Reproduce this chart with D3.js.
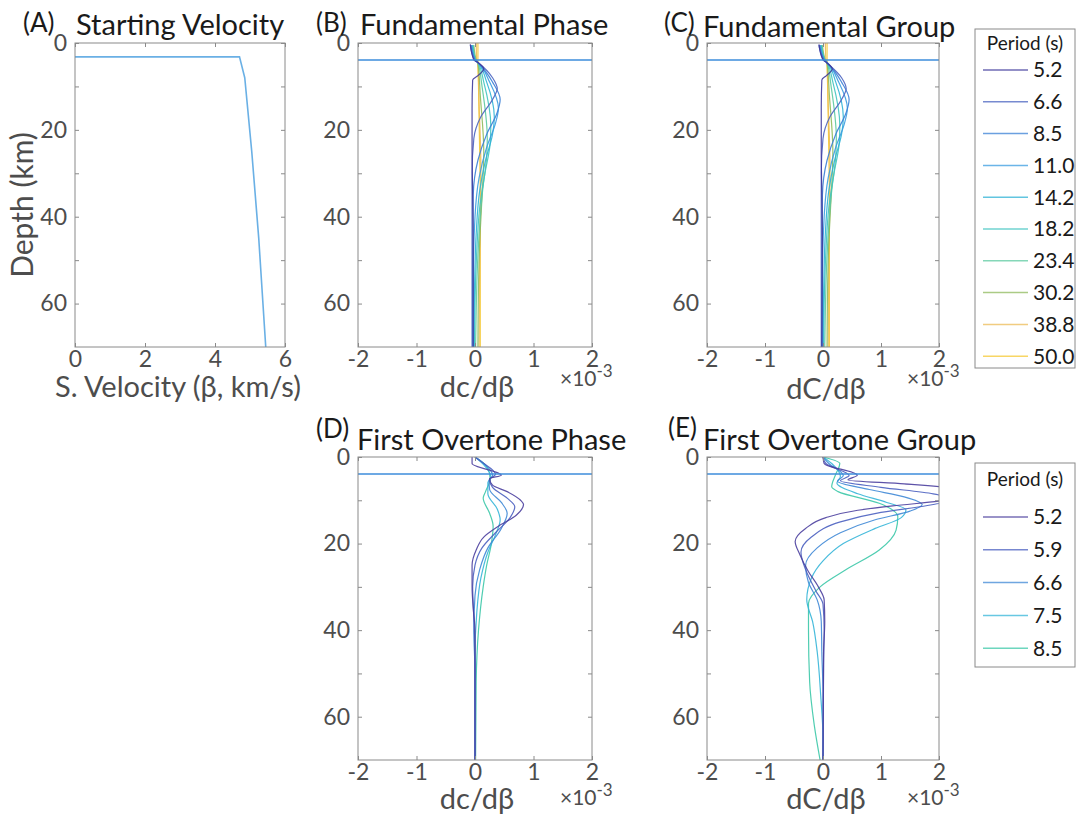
<!DOCTYPE html>
<html>
<head>
<meta charset="utf-8">
<script src="https://cdn.jsdelivr.net/npm/d3@7"></script>
<style>
    body { margin: 0; background: #fff; }
    svg { display: block; font-family: Lato, "Open Sans", sans-serif; }
</style>
</head>
<body>
<div id="chart"></div>
<script>
// ---- data ----
const depthTicks = [0, 10, 20, 30, 40, 50, 60];
const depthLabels = [0, 20, 40, 60];
const velocityTicks = [0, 2, 4, 6];
const kernelTicks = [-2, -1, 0, 1, 2];

const periodsFund = ['5.2', '6.6', '8.5', '11.0', '14.2', '18.2', '23.4', '30.2', '38.8', '50.0'];
const colorsFund = ['#3f3a9c', '#4a63c0', '#3a80d6', '#3a9ce0', '#2db2d6', '#40c4c0', '#5cc9a0', '#8fba5c', '#ecbb55', '#f5c832'];
const periodsOver = ['5.2', '5.9', '6.6', '7.5', '8.5'];
const colorsOver = ['#4b3f9e', '#4a5fc0', '#3f88d6', '#35b5d8', '#3cc8a8'];

// starting model: [beta km/s, depth km]
const startingVelocity = [[0, 3.2], [4.7, 3.2], [4.85, 8], [5.05, 25], [5.25, 45], [5.45, 70]];

// depth of the water/sediment interface where kernels spike off-scale
const interfaceDepth = 3.9;

// sensitivity kernels: [value x1e-3, depth km], one list per period
const fundPhase = [
    [[-0.08, 0.3], [-0.02, 3.9], [0.05, 4.5], [0.15, 6], [0.05, 7.5], [-0.04, 8.5], [-0.05, 15], [-0.05, 25], [-0.04, 35], [-0.03, 45], [-0.03, 70]],
    [[-0.08, 0.5], [-0.01, 3.9], [0.05, 4.5], [0.3, 8], [0.38, 10.5], [0.3, 13], [0.1, 17], [-0.02, 22], [-0.05, 30], [-0.05, 45], [-0.05, 70]],
    [[-0.07, 0.5], [0, 3.9], [0.05, 4.5], [0.3, 9], [0.43, 13], [0.38, 16], [0.2, 21], [0.05, 27], [-0.03, 35], [-0.04, 50], [-0.04, 70]],
    [[-0.06, 0.5], [0, 3.9], [0.05, 4.5], [0.25, 9], [0.4, 15], [0.35, 18.5], [0.2, 24], [0.07, 31], [0, 40], [-0.03, 55], [-0.03, 70]],
    [[-0.05, 0.5], [0, 3.9], [0.05, 4.5], [0.2, 9], [0.33, 17], [0.3, 21], [0.18, 27], [0.08, 34], [0.02, 44], [-0.01, 58], [-0.02, 70]],
    [[-0.04, 0.5], [0.01, 3.9], [0.05, 4.5], [0.15, 9], [0.27, 19], [0.26, 23], [0.17, 30], [0.08, 38], [0.03, 48], [0, 60], [-0.01, 70]],
    [[-0.03, 0.5], [0.01, 3.9], [0.05, 4.5], [0.12, 10], [0.21, 22], [0.2, 26], [0.13, 34], [0.08, 42], [0.04, 52], [0.02, 62], [0.01, 70]],
    [[-0.02, 0.5], [0.02, 3.9], [0.05, 4.5], [0.09, 12], [0.15, 25], [0.14, 30], [0.11, 38], [0.08, 46], [0.06, 56], [0.05, 70]],
    [[0.02, 0], [0.03, 3.9], [0.05, 4.5], [0.07, 14], [0.1, 28], [0.1, 34], [0.09, 42], [0.08, 52], [0.07, 70]],
    [[0.05, 0], [0.05, 3.9], [0.06, 10], [0.08, 25], [0.09, 35], [0.09, 45], [0.09, 55], [0.09, 70]]
];

const fundGroup = [
    [[-0.07, 0.3], [0, 3.9], [0.06, 4.5], [0.16, 6], [0.06, 7.5], [-0.02, 8.5], [-0.03, 15], [-0.03, 25], [-0.02, 35], [-0.01, 45], [-0.02, 70]],
    [[-0.07, 0.5], [0.01, 3.9], [0.06, 4.5], [0.32, 8], [0.4, 10.5], [0.32, 13], [0.12, 17], [0, 22], [-0.03, 30], [-0.03, 45], [-0.03, 70]],
    [[-0.06, 0.5], [0.02, 3.9], [0.07, 4.5], [0.32, 9], [0.45, 13], [0.4, 16], [0.22, 21], [0.07, 27], [-0.01, 35], [-0.02, 50], [-0.02, 70]],
    [[-0.05, 0.5], [0.02, 3.9], [0.07, 4.5], [0.27, 9], [0.42, 15], [0.37, 18.5], [0.22, 24], [0.09, 31], [0.02, 40], [-0.01, 55], [-0.01, 70]],
    [[-0.04, 0.5], [0.02, 3.9], [0.07, 4.5], [0.22, 9], [0.35, 17], [0.32, 21], [0.2, 27], [0.1, 34], [0.04, 44], [0.01, 58], [0, 70]],
    [[-0.03, 0.5], [0.03, 3.9], [0.07, 4.5], [0.17, 9], [0.29, 19], [0.28, 23], [0.19, 30], [0.1, 38], [0.05, 48], [0.02, 60], [0.01, 70]],
    [[-0.02, 0.5], [0.03, 3.9], [0.07, 4.5], [0.14, 10], [0.23, 22], [0.22, 26], [0.15, 34], [0.1, 42], [0.06, 52], [0.04, 62], [0.03, 70]],
    [[-0.01, 0.5], [0.04, 3.9], [0.07, 4.5], [0.11, 12], [0.17, 25], [0.16, 30], [0.13, 38], [0.1, 46], [0.08, 56], [0.07, 70]],
    [[0.04, 0], [0.05, 3.9], [0.07, 4.5], [0.09, 14], [0.12, 28], [0.12, 34], [0.11, 42], [0.1, 52], [0.09, 70]],
    [[0.07, 0], [0.07, 3.9], [0.08, 10], [0.1, 25], [0.11, 35], [0.11, 45], [0.11, 55], [0.11, 70]]
];

const overPhase = [
    [[-0.05, 0], [-0.05, 1.5], [0.45, 4.2], [0.25, 5], [0.3, 6.5], [0.55, 8], [0.78, 10], [0.83, 11], [0.7, 13.5], [0.4, 16], [0.15, 18.5], [0.02, 21.5], [-0.05, 25], [-0.05, 30], [-0.03, 35], [0, 40], [0, 70]],
    [[0, 0], [0.1, 1], [0.35, 4], [0.25, 5.2], [0.3, 7], [0.55, 9.5], [0.68, 11.5], [0.6, 14], [0.35, 17.5], [0.12, 21], [0, 25], [-0.04, 30], [-0.02, 37], [0, 45], [0, 70]],
    [[0, 0], [0.15, 1.5], [0.3, 4.2], [0.24, 5.5], [0.25, 7.5], [0.45, 10.5], [0.55, 13], [0.45, 16.5], [0.22, 21], [0.08, 26], [0, 32], [-0.02, 40], [0, 50], [0, 70]],
    [[0, 0], [0.15, 1.8], [0.27, 4.5], [0.22, 6], [0.22, 8.5], [0.38, 12], [0.43, 14.5], [0.35, 18], [0.22, 22], [0.1, 28], [0.03, 36], [0, 46], [0, 70]],
    [[0, 0], [0.2, 2.2], [0.26, 5], [0.18, 8], [0.14, 9.5], [0.25, 13], [0.31, 16], [0.28, 20], [0.2, 25], [0.14, 30], [0.06, 40], [0.02, 52], [0.01, 70]]
];

const overGroup = [
    [[0, 0], [0.02, 1.5], [0.59, 4.2], [0.43, 5.3], [1.4, 6.2], [2.4, 7.5], [2.6, 9], [2.0, 10.2], [1.2, 11.3], [0.6, 12.3], [0.05, 14], [-0.3, 16.5], [-0.48, 19.5], [-0.4, 22.5], [-0.25, 26.5], [-0.08, 30], [0.02, 33], [0.03, 38], [0.01, 45], [0, 70]],
    [[0, 0], [0.05, 1.5], [0.45, 4.3], [0.3, 5.5], [1.0, 7], [1.9, 8.5], [2.2, 10], [1.8, 11.2], [1.0, 12.8], [0.3, 15], [-0.2, 18.5], [-0.38, 22], [-0.3, 26], [-0.12, 31], [0, 34], [0.02, 40], [0.01, 48], [0, 70]],
    [[0, 0], [0.1, 1.5], [0.35, 4.3], [0.25, 5.6], [0.8, 7.5], [1.4, 9.2], [1.71, 11], [1.5, 12.5], [0.9, 14.5], [0.3, 17.5], [-0.1, 21], [-0.3, 25], [-0.25, 29], [-0.1, 33], [-0.03, 38], [-0.02, 45], [0, 55], [0, 70]],
    [[0, 0], [0.15, 1.5], [0.3, 4.5], [0.24, 6], [0.6, 8.5], [1.1, 10.5], [1.43, 12.2], [1.35, 14], [0.9, 16.5], [0.35, 20], [0, 24], [-0.2, 28], [-0.28, 33], [-0.18, 38], [-0.1, 45], [-0.04, 55], [0, 65], [0, 70]],
    [[0, 0], [0.29, 1.5], [0.22, 4], [0.15, 6.9], [0.26, 8], [0.97, 10.7], [1.29, 13.8], [1.26, 16.9], [0.97, 21.5], [0.4, 26], [-0.05, 30], [-0.25, 33.8], [-0.25, 40], [-0.23, 52], [-0.15, 62], [-0.05, 70]]
];

// ---- layout ----
const width = 1078;
const height = 821;
const axisGrey = '#8a8a8a';
const labelGrey = '#4d4d4d';

const svg = d3.select('#chart').append('svg')
    .attr('width', width)
    .attr('height', height);

function drawPanel(p) {
    const x = d3.scaleLinear().domain(p.xDomain).range([p.left, p.right]);
    const y = d3.scaleLinear().domain([0, 70]).range([p.top, p.bottom]);

    svg.append('clipPath')
        .attr('id', 'clip-' + p.id)
        .append('rect')
        .attr('x', p.left)
        .attr('y', p.top)
        .attr('width', p.right - p.left)
        .attr('height', p.bottom - p.top);

    const plot = svg.append('g').attr('clip-path', `url(#clip-${p.id})`);
    const line = d3.line()
        .x(d => x(d[0]))
        .y(d => y(d[1]))
        .curve(p.smooth ? d3.curveMonotoneY : d3.curveLinear);

    // curves, longest period drawn first so the short ones stay on top
    const series = p.series.map((pts, i) => ({ pts, color: p.colors[i] })).reverse();
    plot.selectAll('path.curve')
        .data(series)
        .join('path')
        .attr('class', 'curve')
        .attr('d', d => line(d.pts))
        .attr('fill', 'none')
        .attr('stroke', d => d.color)
        .attr('stroke-width', p.lineWidth || 1.2)
        .attr('stroke-opacity', 0.9);

    if (p.interface) {
        plot.append('line')
            .attr('x1', x.range()[0])
            .attr('x2', x.range()[1])
            .attr('y1', y(interfaceDepth))
            .attr('y2', y(interfaceDepth))
            .attr('stroke', '#3d8ddb')
            .attr('stroke-width', 1.5);
    }

    // box
    svg.append('rect')
        .attr('x', p.left)
        .attr('y', p.top)
        .attr('width', p.right - p.left)
        .attr('height', p.bottom - p.top)
        .attr('fill', 'none')
        .attr('stroke', axisGrey)
        .attr('stroke-width', 1);

    const styleAxis = sel => {
        sel.select('.domain').remove();
        sel.selectAll('line').attr('stroke', axisGrey);
        sel.selectAll('text')
            .style('fill', labelGrey)
            .style('font-size', '23px')
            .style('font-family', 'Lato, "Open Sans", sans-serif');
    };

    svg.append('g')
        .attr('transform', `translate(${p.left},0)`)
        .call(d3.axisLeft(y).tickValues(depthTicks).tickSize(-4).tickPadding(8)
            .tickFormat(d => depthLabels.includes(d) ? String(d) : ''))
        .call(styleAxis);
    svg.append('g')
        .attr('transform', `translate(${p.right},0)`)
        .call(d3.axisRight(y).tickValues(depthTicks).tickSize(-4).tickFormat(''))
        .call(styleAxis);
    svg.append('g')
        .attr('transform', `translate(0,${p.bottom})`)
        .call(d3.axisBottom(x).tickValues(p.xTicks).tickSize(-4).tickPadding(4)
            .tickFormat(d => String(d)))
        .call(styleAxis);
    svg.append('g')
        .attr('transform', `translate(0,${p.top})`)
        .call(d3.axisTop(x).tickValues(p.xTicks).tickSize(-4).tickFormat(''))
        .call(styleAxis);

    // title
    svg.append('text')
        .attr('x', p.letterX)
        .attr('y', p.letterY)
        .style('font-size', '26px')
        .style('fill', '#1a1a1a')
        .text(p.letter);
    svg.append('text')
        .attr('x', p.titleX)
        .attr('y', p.titleY)
        .style('font-size', '29px')
        .style('fill', '#1a1a1a')
        .text(p.title);

    // x label
    svg.append('text')
        .attr('x', p.xLabelX)
        .attr('y', p.xLabelY)
        .attr('text-anchor', 'middle')
        .style('font-size', '29px')
        .style('fill', labelGrey)
        .text(p.xLabel);

    if (p.exponent) {
        const ex = svg.append('text')
            .attr('x', p.right - 32)
            .attr('y', p.exponentY)
            .style('font-size', '21px')
            .style('fill', labelGrey);
        ex.append('tspan').text('\u00d710');
        ex.append('tspan').attr('dy', -9).style('font-size', '17px').text('-3');
    }
}

function drawLegend(l) {
    svg.append('rect')
        .attr('x', l.x)
        .attr('y', l.y)
        .attr('width', l.w)
        .attr('height', l.h)
        .attr('fill', '#fff')
        .attr('stroke', axisGrey)
        .attr('stroke-width', 1);
    svg.append('text')
        .attr('x', l.x + l.w / 2)
        .attr('y', l.y + l.titleDy)
        .attr('text-anchor', 'middle')
        .style('font-size', '19px')
        .style('fill', '#1a1a1a')
        .text('Period (s)');

    const rows = svg.selectAll(null)
        .data(l.periods)
        .join('g')
        .attr('transform', (d, i) => `translate(${l.x},${l.firstRow + i * l.step})`);
    rows.append('line')
        .attr('x1', 8)
        .attr('x2', 53)
        .attr('stroke', (d, i) => l.colors[i])
        .attr('stroke-opacity', 0.75)
        .attr('stroke-width', 1.5);
    rows.append('text')
        .attr('x', 58)
        .attr('dy', '0.35em')
        .style('font-size', '21px')
        .style('fill', '#1a1a1a')
        .text(d => d);
}

// (A) starting model
drawPanel({
    id: 'a', left: 75, right: 285, top: 43, bottom: 347,
    xDomain: [0, 6], xTicks: velocityTicks,
    series: [startingVelocity], colors: ['#5aa7e2'], lineWidth: 1.6,
    letter: '(A)', letterX: 23, letterY: 32, title: 'Starting Velocity', titleX: 76, titleY: 35,
    xLabel: 'S. Velocity (\u03b2, km/s)', xLabelX: 178, xLabelY: 397
});

drawPanel({
    id: 'b', left: 358, right: 592, top: 43, bottom: 347,
    xDomain: [-2, 2], xTicks: kernelTicks, interface: true, smooth: true,
    series: fundPhase, colors: colorsFund,
    letter: '(B)', letterX: 316, letterY: 32, title: 'Fundamental Phase', titleX: 360, titleY: 35,
    xLabel: 'dc/d\u03b2', xLabelX: 477, xLabelY: 397, exponent: true, exponentY: 386
});

drawPanel({
    id: 'c', left: 707, right: 939, top: 43, bottom: 347,
    xDomain: [-2, 2], xTicks: kernelTicks, interface: true, smooth: true,
    series: fundGroup, colors: colorsFund,
    letter: '(C)', letterX: 664, letterY: 32, title: 'Fundamental Group', titleX: 703, titleY: 37,
    xLabel: 'dC/d\u03b2', xLabelX: 826, xLabelY: 399, exponent: true, exponentY: 386
});

drawPanel({
    id: 'd', left: 358, right: 592, top: 457, bottom: 760,
    xDomain: [-2, 2], xTicks: kernelTicks, interface: true, smooth: true,
    series: overPhase, colors: colorsOver,
    letter: '(D)', letterX: 316, letterY: 438, title: 'First Overtone Phase', titleX: 357, titleY: 450,
    xLabel: 'dc/d\u03b2', xLabelX: 477, xLabelY: 809, exponent: true, exponentY: 805
});

drawPanel({
    id: 'e', left: 707, right: 939, top: 457, bottom: 760,
    xDomain: [-2, 2], xTicks: kernelTicks, interface: true, smooth: true,
    series: overGroup, colors: colorsOver,
    letter: '(E)', letterX: 668, letterY: 437, title: 'First Overtone Group', titleX: 703, titleY: 450,
    xLabel: 'dC/d\u03b2', xLabelX: 826, xLabelY: 809, exponent: true, exponentY: 805
});

// depth label for the left column
svg.append('text')
    .attr('transform', 'translate(33,205) rotate(-90)')
    .attr('text-anchor', 'middle')
    .style('font-size', '30px')
    .style('fill', labelGrey)
    .text('Depth (km)');

drawLegend({ x: 975, y: 29, w: 100, h: 339, titleDy: 21, periods: periodsFund, colors: colorsFund, firstRow: 70, step: 31.8 });
drawLegend({ x: 975, y: 463, w: 100, h: 204, titleDy: 23, periods: periodsOver, colors: colorsOver, firstRow: 517, step: 32.8 });
</script>
</body>
</html>
